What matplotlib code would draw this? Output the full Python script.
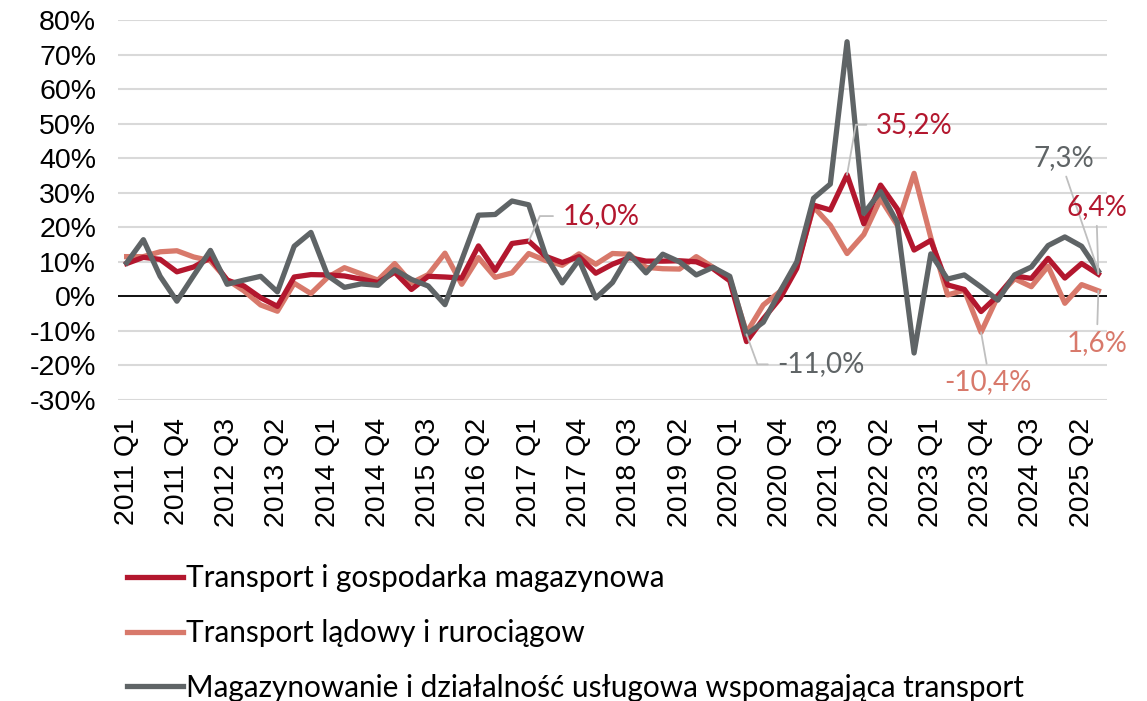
import matplotlib
matplotlib.use("Agg")
import matplotlib.pyplot as plt

# quarters 2011 Q1 .. 2025 Q3
quarters = [str(y) + " Q" + str(q) for y in range(2011, 2026) for q in range(1, 5)][:59]

# y/y dynamics, %
transport = [9.5, 11.3, 10.7, 7.1, 8.5, 11.2, 4.7, 3.0, -0.4, -2.9,
             5.6, 6.3, 6.2, 5.9, 5.0, 4.0, 7.0, 2.0, 5.8, 5.6,
             5.3, 14.6, 7.5, 15.3, 16.0, 11.6, 9.8, 11.5, 6.7, 9.3,
             11.2, 10.2, 10.2, 10.3, 10.0, 8.0, 4.5, -13.1, -6.5, -0.6,
             8.1, 26.4, 25.0, 35.2, 21.0, 32.2, 25.3, 13.4, 16.2, 3.3,
             2.0, -4.4, 0.2, 5.9, 5.2, 11.0, 5.3, 9.5, 6.4]
ladowy = [11.5, 11.5, 12.9, 13.2, 11.4, 10.3, 4.8, 1.6, -2.5, -4.3,
          3.8, 0.8, 5.5, 8.3, 6.5, 4.7, 9.5, 3.9, 6.3, 12.5,
          3.5, 11.2, 5.5, 6.8, 12.4, 10.4, 9.0, 12.3, 9.3, 12.4,
          12.2, 8.4, 8.0, 7.9, 11.5, 8.4, 5.2, -10.5, -2.5, 1.4,
          8.6, 25.9, 20.6, 12.4, 17.9, 28.2, 20.6, 35.6, 17.0, 0.4,
          1.8, -10.4, 0.0, 5.1, 2.8, 8.7, -2.0, 3.4, 1.6]
magazyn = [9.7, 16.4, 5.8, -1.4, 6.0, 13.3, 3.5, 4.7, 5.8, 1.3,
           14.5, 18.5, 6.0, 2.6, 3.6, 3.2, 7.7, 4.9, 3.0, -2.4,
           10.5, 23.5, 23.7, 27.6, 26.5, 12.0, 3.9, 10.6, -0.5, 4.0,
           12.2, 6.8, 12.2, 10.0, 6.2, 8.4, 5.8, -11.0, -7.5, 1.4,
           10.0, 28.4, 32.5, 73.7, 24.0, 30.3, 21.3, -16.4, 12.3, 5.0,
           6.2, 2.7, -1.1, 6.2, 8.5, 14.7, 17.2, 14.5, 7.3]

names = ["Transport i gospodarka magazynowa",
         "Transport lądowy i rurociągow",
         "Magazynowanie i działalność usługowa wspomagająca transport"]

c_red = "#B3172E"
c_salmon = "#D8796B"
c_gray = "#5F6466"
c_lead = "#BFBFBF"

x = list(range(len(quarters)))

fig = plt.figure(figsize=(11.47, 7.01), dpi=100)
ax = fig.add_axes([0.1031, 0.4294, 0.8618, 0.5421])

l1, = ax.plot(x, transport, color=c_red, lw=3.8, zorder=3, solid_joinstyle="round")
l2, = ax.plot(x, ladowy, color=c_salmon, lw=3.8, zorder=2, solid_joinstyle="round")
l3, = ax.plot(x, magazyn, color=c_gray, lw=3.8, zorder=4, solid_joinstyle="round")
ax.axhline(0, color="black", lw=1.3, zorder=1.5)

ax.set_xlim(-0.5, len(quarters) - 0.5)
ax.set_ylim(-30, 80)
yt = list(range(-30, 81, 10))
ax.set_yticks(yt)
ax.set_yticklabels([str(v) + "%" for v in yt], fontsize=20.5, family="Liberation Sans")
ax.set_xticks(x[::3])
ax.set_xticklabels(quarters[::3], rotation=90, fontsize=20.5, family="Liberation Sans")
ax.tick_params(axis="y", length=0, pad=16)
ax.tick_params(axis="x", length=0, pad=13)
ax.yaxis.grid(True, color="#D9D9D9", lw=1.5, zorder=0)
ax.set_axisbelow(True)
for s in ax.spines.values():
    s.set_visible(False)

px = 0.72  # pixels -> points


def label(txt, i, vals, col, dx, dy, ha, relpos, conn, shrink=2):
    ax.annotate(txt, xy=(i, vals[i]), xytext=(dx * px, dy * px), textcoords="offset points",
                ha=ha, va="center", color=col, fontsize=20, family="Lato",
                arrowprops=dict(arrowstyle="-", color=c_lead, lw=1.3, relpos=relpos,
                                shrinkA=shrink, shrinkB=0, connectionstyle=conn),
                zorder=6)


label("16,0%", 24, transport, c_red, 34, 25, "left", (0, 0.5), "angle,angleA=0,angleB=66,rad=0", 5)
label("35,2%", 43, transport, c_red, 29, 50, "left", (0, 0.5), "angle,angleA=0,angleB=80,rad=0", 5)
label("-11,0%", 37, magazyn, c_gray, 31, -30, "left", (0, 0.5), "angle,angleA=0,angleB=-70,rad=0", 5)
label("-10,4%", 51, ladowy, c_salmon, 6.5, -50, "center", (0.5, 1), "arc3")
label("7,3%", 58, magazyn, c_gray, -34, 113, "center", (0.5, 0), "arc3")
label("6,4%", 58, transport, c_red, -1.7, 67, "center", (0.5, 0), "arc3")
label("1,6%", 58, ladowy, c_salmon, -1.2, -52, "center", (0.5, 1), "arc3")

fig.legend([l1, l2, l3], names, loc="upper left", bbox_to_anchor=(0.1, 0.212),
           frameon=False, prop={"family": "Lato", "size": 21.4},
           handlelength=1.9, handletextpad=0.1, labelspacing=0.9, borderaxespad=0)

fig.savefig("out.png", dpi=100)
